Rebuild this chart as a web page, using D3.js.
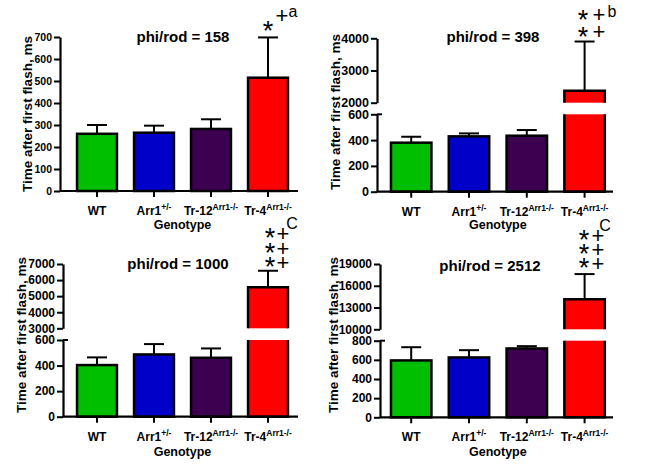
<!DOCTYPE html>
<html><head><meta charset="utf-8">
<script src="https://cdn.jsdelivr.net/npm/d3@7"></script>
<style>body{margin:0;background:#fff}svg{display:block}text{font-family:"Liberation Sans",Arial,sans-serif}</style>
</head><body>
<svg id="c" width="658" height="475"></svg>
<script>
// ---------- data ----------
const categories = ["WT", "Arr1", "Tr-12", "Tr-4"];
const superscripts = ["", "+/-", "Arr1-/-", "Arr1-/-"];
const colors = ["#00bf00", "#0000c8", "#3d0050", "#ff0000"];
const titles = ["phi/rod = 158", "phi/rod = 398", "phi/rod = 1000", "phi/rod = 2512"];
const yTitle = "Time after first flash, ms";
const xTitle = "Genotype";

const means158 = [260, 265, 282, 515];
const sem158 = [40, 32, 44, 183];
const means398 = [380, 429, 434, 2375];
const sem398 = [46, 23, 44, 1525];
const means1000 = [404, 487, 461, 5560];
const sem1000 = [60, 81, 73, 1020];
const means2512 = [594, 625, 719, 14130];
const sem2512 = [138, 76, 24, 3480];

const ticks158 = [0, 100, 200, 300, 400, 500, 600, 700];
const ticks398Low = [0, 200, 400, 600];
const ticks398High = [2000, 3000, 4000];
const ticks1000Low = [0, 200, 400, 600];
const ticks1000High = [3000, 4000, 5000, 6000, 7000];
const ticks2512Low = [0, 200, 400, 600, 800];
const ticks2512High = [10000, 13000, 16000, 19000];

// significance marks (glyphs, drawn in one text per panel)
const annot158 = ["*", "+", "a"];
const annot398 = ["*", "+", "b", "*", "+"];
const annot1000 = ["C", "*", "+", "*", "+", "*", "+"];
const annot2512 = ["C", "*", "+", "*", "+", "*", "+"];

// ---------- layout ----------
const svg = d3.select("#c");
const fsOf = s => s === "*" ? 27 : s === "+" ? 22 : 16;
const panels = [
  {means: means158, sem: sem158, title: titles[0], ax: 60, xr: [68.5, 296.5], xEnd: 298, tickFs: 10.5,
   low: {dom: [0, 700], rng: [191, 37], ticks: ticks158}, high: null,
   titlePos: [183, 42], yTitlePos: [27, 114], xLabY: 215, xTitleY: 229,
   annot: annot158, annotPos: [[268, 40], [282, 23], [293, 17]]},
  {means: means398, sem: sem398, title: titles[1], ax: 377, xr: [382.3, 613.5], xEnd: 613, tickFs: 12.5,
   low: {dom: [0, 600], rng: [191.7, 114.3], ticks: ticks398Low},
   high: {dom: [2000, 4000], rng: [102.7, 38.3], ticks: ticks398High},
   titlePos: [493, 42], yTitlePos: [335, 112], xLabY: 216, xTitleY: 229,
   annot: annot398, annotPos: [[583, 29], [599, 22], [612, 17], [583, 46], [599, 39]]},
  {means: means1000, sem: sem1000, title: titles[2], ax: 63, xr: [68.5, 296.5], xEnd: 298, tickFs: 12,
   low: {dom: [0, 600], rng: [416.7, 340], ticks: ticks1000Low},
   high: {dom: [3000, 7000], rng: [328.3, 264], ticks: ticks1000High},
   titlePos: [178, 269], yTitlePos: [21, 335], xLabY: 441, xTitleY: 456,
   annot: annot1000, annotPos: [[292, 229], [270, 247], [283, 241], [270, 261.5], [283, 255.5], [270, 276], [283, 270]]},
  {means: means2512, sem: sem2512, title: titles[3], ax: 380, xr: [382.3, 613.5], xEnd: 613, tickFs: 12,
   low: {dom: [0, 800], rng: [417.3, 340.7], ticks: ticks2512Low},
   high: {dom: [10000, 19000], rng: [329.3, 264], ticks: ticks2512High},
   titlePos: [490, 271], yTitlePos: [333, 335], xLabY: 441, xTitleY: 456,
   annot: annot2512, annotPos: [[605, 231], [584, 249], [598, 243], [584, 263], [598, 257], [584, 277], [598, 271]]}
];

panels.forEach(p => {
  const g = svg.append("g");
  const x = d3.scaleBand().domain(categories).range(p.xr).paddingInner(0.3).paddingOuter(0.15);
  const yl = d3.scaleLinear().domain(p.low.dom).range(p.low.rng);
  const yh = p.high ? d3.scaleLinear().domain(p.high.dom).range(p.high.rng) : null;
  const lowMax = p.low.dom[1];
  const yOf = v => (yh && v > lowMax) ? yh(v) : yl(v);

  // bars
  categories.forEach((c, i) => {
    const v = p.means[i], x0 = x(c), w = x.bandwidth();
    if (yh && v > lowMax) {
      const yb = yl(0), yt = yl(lowMax);
      g.append("rect").attr("x", x0).attr("y", yt).attr("width", w).attr("height", yb - yt).attr("fill", colors[i]);
      g.append("path").attr("d", `M${x0},${yt}V${yb}H${x0 + w}V${yt}`).attr("fill", "none").attr("stroke", "#000").attr("stroke-width", 2.5);
      const yb2 = yh(p.high.dom[0]), yt2 = yh(v);
      g.append("rect").attr("x", x0).attr("y", yt2).attr("width", w).attr("height", yb2 - yt2).attr("fill", colors[i]);
      g.append("path").attr("d", `M${x0},${yb2}V${yt2}H${x0 + w}V${yb2}`).attr("fill", "none").attr("stroke", "#000").attr("stroke-width", 2.5);
    } else {
      g.append("rect").attr("x", x0).attr("y", yl(v)).attr("width", w).attr("height", yl(0) - yl(v))
        .attr("fill", colors[i]).attr("stroke", "#000").attr("stroke-width", 2.5);
    }
    // error bar (upper only)
    const cx = x0 + w / 2, top = v + p.sem[i];
    g.append("line").attr("x1", cx).attr("x2", cx).attr("y1", yOf(v)).attr("y2", yOf(top)).attr("stroke", "#000").attr("stroke-width", 2);
    g.append("line").attr("x1", cx - 10).attr("x2", cx + 10).attr("y1", yOf(top)).attr("y2", yOf(top)).attr("stroke", "#000").attr("stroke-width", 2);
  });

  // y axes (broken)
  const drawAxis = (scale, ticks, isLow) => {
    const a = g.append("g").attr("transform", `translate(${p.ax},0)`)
      .call(d3.axisLeft(scale).tickValues(ticks).tickSize(6).tickSizeOuter(0).tickPadding(2).tickFormat(d3.format("d")));
    a.select(".domain").attr("stroke-width", 2.2);
    a.selectAll(".tick line").attr("stroke-width", 2);
    a.selectAll("text").attr("font-size", p.tickFs).attr("font-weight", "bold").attr("fill", "#000");
    if (p.high && isLow) {
      const yt = scale(scale.domain()[1]);
      a.append("line").attr("x1", 0).attr("x2", 5).attr("y1", yt).attr("y2", yt).attr("stroke", "#000").attr("stroke-width", 2);
    }
  };
  drawAxis(yl, p.low.ticks, true);
  if (yh) drawAxis(yh, p.high.ticks, false);

  // x axis
  const xa = g.append("g").attr("transform", `translate(0,${yl(0)})`);
  xa.append("line").attr("x1", p.ax).attr("x2", p.xEnd).attr("stroke", "#000").attr("stroke-width", 2.2);
  categories.forEach((c, i) => {
    const cx = x(c) + x.bandwidth() / 2;
    xa.append("line").attr("x1", cx).attr("x2", cx).attr("y1", 0).attr("y2", 6).attr("stroke", "#000").attr("stroke-width", 2);
    const t = g.append("text").attr("x", cx).attr("y", p.xLabY).attr("text-anchor", "middle")
      .attr("font-size", 12).attr("font-weight", "bold");
    t.append("tspan").text(c);
    if (superscripts[i]) t.append("tspan").attr("dy", -5).attr("font-size", 8.5).text(superscripts[i]);
  });

  g.append("text").attr("x", (p.xr[0] + p.xr[1]) / 2).attr("y", p.xTitleY).attr("text-anchor", "middle")
    .attr("font-size", 12.5).attr("font-weight", "bold").text(xTitle);
  g.append("text").attr("transform", `translate(${p.yTitlePos[0]},${p.yTitlePos[1]}) rotate(-90)`)
    .attr("text-anchor", "middle").attr("dy", "0.35em").attr("font-size", 13.5).attr("font-weight", "bold").text(yTitle);
  g.append("text").attr("x", p.titlePos[0]).attr("y", p.titlePos[1]).attr("text-anchor", "middle")
    .attr("font-size", 15).attr("font-weight", "bold").text(p.title);

  // significance marks: one text element per panel, each glyph placed absolutely
  const at = g.append("text").attr("text-anchor", "middle");
  p.annot.forEach((s, k) => {
    at.append("tspan").attr("x", p.annotPos[k][0]).attr("y", p.annotPos[k][1]).attr("font-size", fsOf(s)).text(s);
  });
});
</script>
</body></html>
